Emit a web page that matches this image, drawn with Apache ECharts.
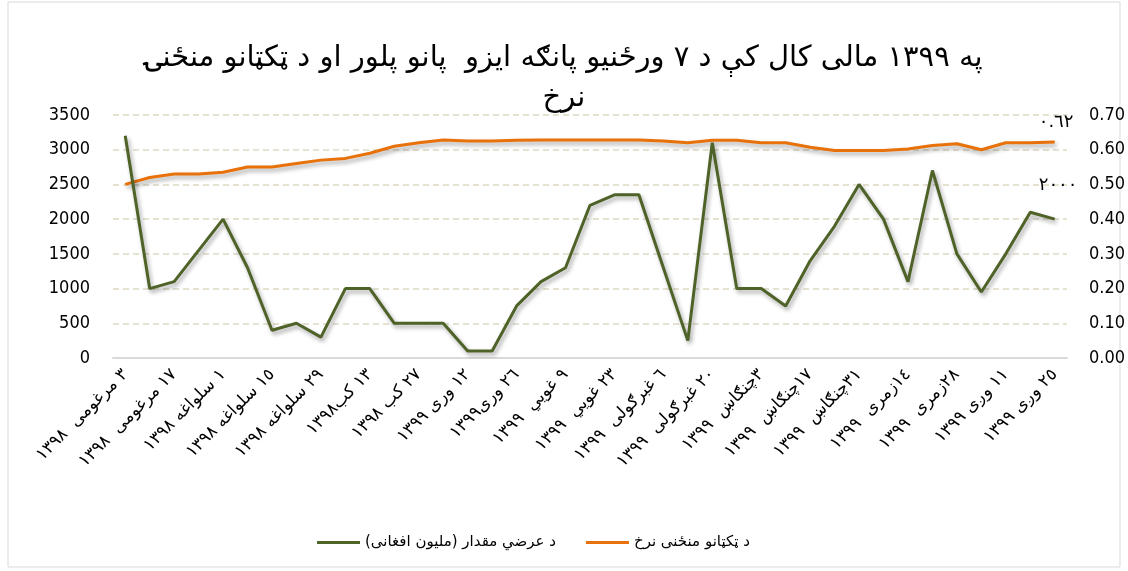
<!DOCTYPE html>
<html>
<head>
<meta charset="utf-8">
<script src="https://cdn.jsdelivr.net/npm/echarts@6/dist/echarts.min.js"></script>
<style>
  html, body { margin: 0; padding: 0; background: #fff; }
  #chart { width: 1128px; height: 571px; }
</style>
</head>
<body>
<div id="chart"></div>
<script>
// weekly auction dates (every other one is labelled on the axis)
const categories = [
  '٣ مرغومی  ١٣٩٨', '', '١٧ مرغومی  ١٣٩٨', '', '١ سلواغه ١٣٩٨', '', '١٥ سلواغه ١٣٩٨', '',
  '٢٩ سلواغه ١٣٩٨', '', '١٣ کب١٣٩٨', '', '٢٧ کب ١٣٩٨', '', '١٢ وری ١٣٩٩', '',
  '٢٦ وری١٣٩٩', '', '٩ غویي  ١٣٩٩', '', '٢٣ غویي  ١٣٩٩', '', '٦ غبرګولی  ١٣٩٩', '',
  '٢٠ غبرګولی  ١٣٩٩', '', '٣چنګاښ  ١٣٩٩', '', '١٧چنګاښ  ١٣٩٩', '', '٣١چنګاښ  ١٣٩٩', '',
  '١٤زمری  ١٣٩٩', '', '٢٨زمری  ١٣٩٩', '', '١١ وږی ١٣٩٩', '', '٢٥ وږی ١٣٩٩'
]

// supply amount (million AFN), left axis
const supply = [
  3200, 1000, 1100, 1550, 2000, 1300, 400, 500, 300, 1000,
  1000, 500, 500, 500, 100, 100, 750, 1100, 1300, 2200,
  2350, 2350, 1300, 250, 3100, 1000, 1000, 750, 1400, 1900,
  2500, 2000, 1100, 2700, 1500, 950, 1500, 2100, 2000
]

// average bill rate, right axis
const rate = [
  0.50, 0.52, 0.53, 0.53, 0.535, 0.55, 0.55, 0.56, 0.57, 0.575,
  0.59, 0.61, 0.62, 0.628, 0.625, 0.625, 0.627, 0.628, 0.628, 0.628,
  0.628, 0.628, 0.625, 0.62, 0.627, 0.627, 0.62, 0.62, 0.607, 0.598,
  0.598, 0.598, 0.602, 0.612, 0.617, 0.60, 0.62, 0.62, 0.622
]

const seriesNames = ['د عرضي مقدار (ملیون افغانی)', 'د ټکټانو منځنی نرخ']
const titleText = 'په ١٣٩٩ مالی کال کې د ٧ ورځنیو پانګه ایزو  پانو پلور او د ټکټانو منځنۍ\nنرخ'

const green = '#4F6228'
const orange = '#E8710A'
const arabicFont = "'DejaVu Sans', 'Liberation Sans', sans-serif"
const narrowFont = "'Liberation Sans Narrow', 'DejaVu Sans Condensed', 'Roboto', sans-serif"

const toArabicDigits = s => String(s).replace(/[0-9]/g, d => '٠١٢٣٤٥٦٧٨٩'[+d])

const shadow = {
  shadowColor: 'rgba(0,0,0,0.35)',
  shadowBlur: 4,
  shadowOffsetX: 2,
  shadowOffsetY: 3
}

const chart = echarts.init(document.getElementById('chart'))

const option = {
  animation: false,
  backgroundColor: '#fff',
  graphic: [
    {
      type: 'rect',
      shape: { x: 8, y: 2, width: 1112, height: 565 },
      style: { fill: 'none', stroke: '#D9D9D9', lineWidth: 1 },
      silent: true,
      z: -10
    }
  ],
  title: {
    text: titleText,
    left: 'center',
    top: 33,
    textStyle: {
      fontFamily: arabicFont,
      fontSize: 29,
      fontWeight: 'normal',
      color: '#000',
      lineHeight: 40,
      align: 'center'
    }
  },
  grid: {
    left: 113,
    right: 53,
    top: 115,
    bottom: 213,
    containLabel: false
  },
  legend: {
    bottom: 16,
    left: 312,
    itemGap: 30,
    itemWidth: 43,
    itemHeight: 3,
    icon: 'rect',
    textStyle: { fontFamily: arabicFont, fontSize: 15, color: '#000' },
    data: seriesNames
  },
  xAxis: {
    type: 'category',
    data: categories,
    boundaryGap: true,
    axisLine: { lineStyle: { color: '#D9D9D9', width: 2 } },
    axisTick: { show: false },
    axisLabel: {
      interval: 0,
      rotate: 45,
      margin: 14,
      fontFamily: arabicFont,
      fontSize: 17,
      color: '#000'
    }
  },
  yAxis: [
    {
      type: 'value',
      min: 0,
      max: 3500,
      interval: 500,
      axisLine: { show: false },
      axisTick: { show: false },
      splitLine: { lineStyle: { color: '#DDD9C3', type: [6, 4], width: 1.5 } },
      axisLabel: {
        fontFamily: narrowFont,
        fontSize: 18,
        color: '#000',
        margin: 23,
        formatter: v => String(v)
      }
    },
    {
      type: 'value',
      min: 0,
      max: 0.7,
      interval: 0.1,
      axisLine: { show: false },
      axisTick: { show: false },
      splitLine: { show: false },
      axisLabel: {
        fontFamily: narrowFont,
        fontSize: 18,
        color: '#000',
        margin: 22,
        formatter: v => v.toFixed(2)
      }
    }
  ],
  series: [
    {
      name: seriesNames[0],
      type: 'line',
      yAxisIndex: 0,
      data: supply,
      showSymbol: false,
      symbol: 'none',
      color: green,
      lineStyle: { width: 3, color: green, ...shadow },
      endLabel: {
        show: true,
        distance: 0,
        offset: [-16, -34],
        fontFamily: arabicFont,
        fontSize: 18,
        color: '#000',
        formatter: p => toArabicDigits(p.value)
      },
      z: 3
    },
    {
      name: seriesNames[1],
      type: 'line',
      yAxisIndex: 1,
      data: rate,
      showSymbol: false,
      symbol: 'none',
      color: orange,
      lineStyle: { width: 3, color: orange, ...shadow },
      endLabel: {
        show: true,
        distance: 0,
        offset: [-16, -20],
        fontFamily: arabicFont,
        fontSize: 18,
        color: '#000',
        formatter: p => toArabicDigits(p.value.toFixed(2))
      },
      z: 2
    }
  ]
}

chart.setOption(option)

window.addEventListener('resize', () => {
  chart.resize()
})
</script>
</body>
</html>
